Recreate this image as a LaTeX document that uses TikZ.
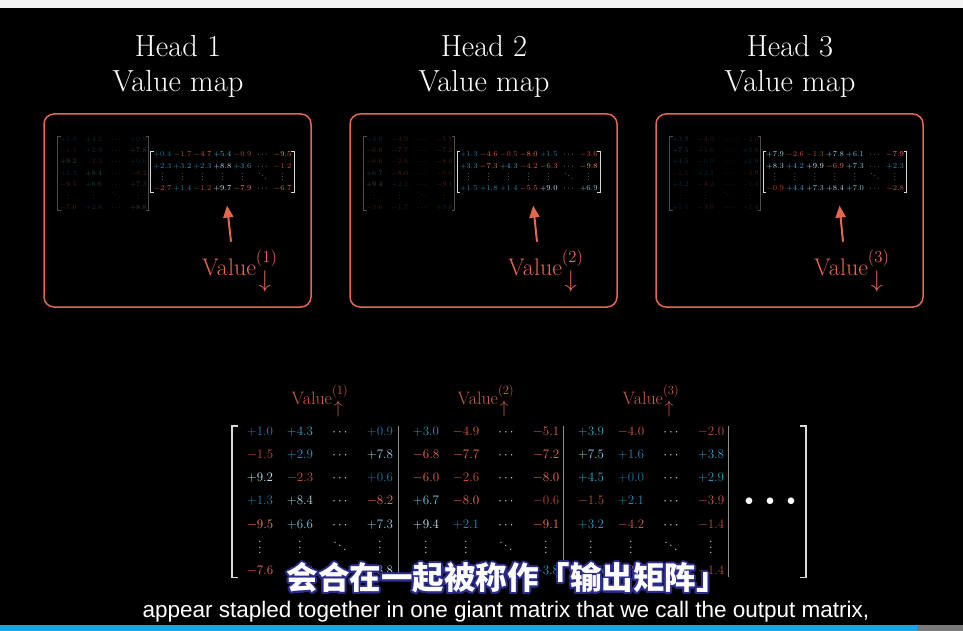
\RequirePackage{fix-cm}
\documentclass[tikz,border=0pt]{standalone}
\usepackage{amsmath}
\usepackage{fontspec}
\usepackage{contour}
\usepackage{tikz}
\usetikzlibrary{positioning, arrows.meta, matrix, calc}

\newfontfamily\cjkfont{Noto Sans CJK SC}
\newfontfamily\capfont{Liberation Sans}

\definecolor{cFrame}   {HTML}{E4684F}
\definecolor{cPosLo}   {HTML}{1D70A0}
\definecolor{cPosMid}  {HTML}{3CB2DC}
\definecolor{cPosHi}   {HTML}{E4F6FC}
\definecolor{cNegLo}   {HTML}{B0452F}
\definecolor{cNegMid}  {HTML}{DE5F48}
\definecolor{cNegHi}   {HTML}{FF8468}
\definecolor{cDots}    {HTML}{E8E8E8}
\definecolor{cBracket} {HTML}{D9D9D9}
\definecolor{cSep}     {HTML}{8C8C8C}
\definecolor{cTopBar}  {HTML}{F4F4F4}
\definecolor{cProg}    {HTML}{18A7E0}
\definecolor{cProgRest}{HTML}{7A7A7A}
\definecolor{cSubEdge} {HTML}{2B2C8C}

\contourlength{2pt}

% matrix entries: colour gets brighter with the magnitude
\newcommand\posv[1]{%
  \ifdim#1pt<5pt \pgfmathtruncatemacro\vlev{#1*20}\textcolor{cPosMid!\vlev!cPosLo}{+#1}%
  \else \pgfmathtruncatemacro\vlev{(#1-5)*20}\textcolor{cPosHi!\vlev!cPosMid}{+#1}\fi}
\newcommand\negv[1]{%
  \ifdim#1pt<5pt \pgfmathtruncatemacro\vlev{#1*20}\textcolor{cNegMid!\vlev!cNegLo}{-#1}%
  \else \pgfmathtruncatemacro\vlev{(#1-5)*20}\textcolor{cNegHi!\vlev!cNegMid}{-#1}\fi}
% dots that scale with the font
\newcommand\vdts{\lower0.2em\vbox{\baselineskip0.42em \lineskiplimit0pt \kern0.5em\hbox{.}\hbox{.}\hbox{.}}}
\newcommand\ddts{\mathinner{\mkern1mu\raise0.6em\vbox{\kern0.6em\hbox{.}}\mkern2mu
  \raise0.33em\hbox{.}\mkern2mu\raise0.05em\hbox{.}\mkern1mu}}

% square brackets round a matrix: [style]{name}{gap}{serif}
\newcommand\brackets[4][]{%
  \draw[#1] ([xshift=-#3+#4]#2.north west) -- ([xshift=-#3]#2.north west)
        -- ([xshift=-#3]#2.south west) -- ([xshift=-#3+#4]#2.south west);
  \draw[#1] ([xshift=#3-#4]#2.north east) -- ([xshift=#3]#2.north east)
        -- ([xshift=#3]#2.south east) -- ([xshift=#3-#4]#2.south east);}

% value columns of each head
\newcommand\vcolsA{%
  \posv{1.0} \& \posv{4.3} \& \cdots \& \posv{0.9} \\
  \negv{1.5} \& \posv{2.9} \& \cdots \& \posv{7.8} \\
  \posv{9.2} \& \negv{2.3} \& \cdots \& \posv{0.6} \\
  \posv{1.3} \& \posv{8.4} \& \cdots \& \negv{8.2} \\
  \negv{9.5} \& \posv{6.6} \& \cdots \& \posv{7.3} \\
  \vdts \& \vdts \& \ddts \& \vdts \\
  \negv{7.6} \& \posv{2.8} \& \cdots \& \posv{8.8} \\}
\newcommand\vcolsB{%
  \posv{3.0} \& \negv{4.9} \& \cdots \& \negv{5.1} \\
  \negv{6.8} \& \negv{7.7} \& \cdots \& \negv{7.2} \\
  \negv{6.0} \& \negv{2.6} \& \cdots \& \negv{8.0} \\
  \posv{6.7} \& \negv{8.0} \& \cdots \& \negv{0.6} \\
  \posv{9.4} \& \posv{2.1} \& \cdots \& \negv{9.1} \\
  \vdts \& \vdts \& \ddts \& \vdts \\
  \negv{3.6} \& \negv{1.7} \& \cdots \& \posv{3.8} \\}
\newcommand\vcolsC{%
  \posv{3.9} \& \negv{4.0} \& \cdots \& \negv{2.0} \\
  \posv{7.5} \& \posv{1.6} \& \cdots \& \posv{3.8} \\
  \posv{4.5} \& \posv{0.0} \& \cdots \& \posv{2.9} \\
  \negv{1.5} \& \posv{2.1} \& \cdots \& \negv{3.9} \\
  \posv{3.2} \& \negv{4.2} \& \cdots \& \negv{1.4} \\
  \vdts \& \vdts \& \ddts \& \vdts \\
  \posv{1.5} \& \negv{3.0} \& \cdots \& \negv{1.4} \\}

% value-map rows of each head
\newcommand\vrowsA{%
  \posv{0.4} \& \negv{1.7} \& \negv{4.7} \& \posv{5.4} \& \negv{0.9} \& \cdots \& \negv{9.5} \\
  \posv{2.3} \& \posv{3.2} \& \posv{2.3} \& \posv{8.8} \& \posv{3.6} \& \cdots \& \negv{1.2} \\
  \vdts \& \vdts \& \vdts \& \vdts \& \vdts \& \ddts \& \vdts \\
  \negv{2.7} \& \posv{1.4} \& \negv{1.2} \& \posv{9.7} \& \negv{7.9} \& \cdots \& \negv{6.7} \\}
\newcommand\vrowsB{%
  \posv{1.3} \& \negv{4.6} \& \negv{0.5} \& \negv{8.0} \& \posv{1.5} \& \cdots \& \negv{3.6} \\
  \posv{3.3} \& \negv{7.3} \& \posv{4.3} \& \negv{4.2} \& \negv{6.3} \& \cdots \& \negv{9.8} \\
  \vdts \& \vdts \& \vdts \& \vdts \& \vdts \& \ddts \& \vdts \\
  \posv{1.5} \& \posv{1.8} \& \posv{1.4} \& \negv{5.5} \& \posv{9.0} \& \cdots \& \posv{6.9} \\}
\newcommand\vrowsC{%
  \posv{7.9} \& \negv{2.6} \& \negv{1.3} \& \posv{7.8} \& \posv{6.1} \& \cdots \& \negv{7.9} \\
  \posv{8.3} \& \posv{4.2} \& \posv{9.9} \& \negv{6.9} \& \posv{7.3} \& \cdots \& \posv{2.3} \\
  \vdts \& \vdts \& \vdts \& \vdts \& \vdts \& \ddts \& \vdts \\
  \negv{0.9} \& \posv{4.4} \& \posv{7.3} \& \posv{8.4} \& \posv{7.0} \& \cdots \& \negv{2.8} \\}

\begin{document}
\begin{tikzpicture}[x=1pt, y=1pt,
    title/.style={text=white, align=center, inner sep=0pt, anchor=north,
                  font=\fontsize{30.5}{35}\selectfont},
    framebox/.style={draw=cFrame, line width=1.5pt, rounded corners=10pt,
                     minimum width=267pt, minimum height=193pt},
    dimmat/.style={matrix of math nodes, ampersand replacement=\&, inner sep=0pt,
                   column sep=9pt, row sep=4.8pt,
                   nodes={inner sep=0pt, text=cDots, text height=5pt, text depth=1.5pt,
                          text opacity=0.3, font=\fontsize{7}{8}\selectfont}},
    rowmat/.style={matrix of math nodes, ampersand replacement=\&, inner sep=0pt,
                   column sep=0pt, row sep=4.9pt,
                   nodes={inner sep=0pt, text=cDots, minimum width=20pt, text height=5pt,
                          text depth=1.5pt, font=\fontsize{7.5}{9}\selectfont}},
    bigmat/.style={matrix of math nodes, ampersand replacement=\&, inner sep=0pt,
                   column sep=0pt, row sep=10.6pt,
                   nodes={inner sep=0pt, text=cDots, minimum width=40pt, text height=9.5pt,
                          text depth=3pt, font=\fontsize{13}{15}\selectfont}},
    brk/.style={draw=cBracket, line width=1pt},
    dimbrk/.style={draw=cBracket!35!black, line width=0.8pt},
    bigbrk/.style={draw=cBracket, line width=1.8pt},
    sepline/.style={draw=cSep, line width=1.2pt},
    vtop/.style={text=cFrame, inner sep=0pt, font=\fontsize{24}{26}\selectfont},
    vbot/.style={text=cFrame!90!black, inner sep=0pt, font=\fontsize{18}{18}\selectfont},
    varrow/.style={draw=cFrame, line width=2pt, -{Triangle[length=12pt, width=10pt]}},
  ]
  \useasboundingbox (0,0) rectangle (963,-631);
  \fill[black] (0,-8) rectangle (963,-625);
  \fill[cTopBar] (0,0) rectangle (963,-8);
  \fill[cProg] (0,-625) rectangle (917,-631);
  \fill[cProgRest] (917,-625) rectangle (963,-631);

  % three head panels
  \foreach \k/\dx in {1/0, 2/306, 3/612}{
    \node[title] (head\k) at (178+\dx,-35) {Head \k\\Value map};
    \node[framebox] (box\k) at (177.5+\dx,-210.5) {};
  }

  % faded value columns and the value-map rows
  \matrix[dimmat] (sm1) at (103.3,-173.5) {\vcolsA};
  \matrix[dimmat] (sm2) at (409.3,-173.5) {\vcolsB};
  \matrix[dimmat] (sm3) at (715.3,-173.5) {\vcolsC};
  \matrix[rowmat] (rm1) at (222.5,-172) {\vrowsA};
  \matrix[rowmat] (rm2) at (528.7,-172) {\vrowsB};
  \matrix[rowmat] (rm3) at (835,-172) {\vrowsC};
  \foreach \m in {sm1,sm2,sm3} {\brackets[dimbrk]{\m}{2pt}{3pt}}
  \foreach \m in {rm1,rm2,rm3} {\brackets[brk]{\m}{1.5pt}{3pt}}

  \foreach \k/\dx in {1/0, 2/306, 3/612}{
    \node[vtop, anchor=base west] (lab\k) at (202+\dx,-275)
      {Value$^{(\k)}_{\kern3pt\raisebox{-2pt}{$\downarrow$}}$};
    \draw[varrow] ([shift={(29pt,8pt)}]lab\k.north west) -- ([shift={(4.5pt,-13pt)}]rm\k.south);
  }

  % output matrix, heads stapled side by side
  \matrix[bigmat] (g1) at (320,-501.7) {\vcolsA};
  \matrix[bigmat] (g2) at (486,-501.7) {\vcolsB};
  \matrix[bigmat] (g3) at (651,-501.7) {\vcolsC};
  \coordinate (vbase) at (0,-404);
  \foreach \k in {1,2,3}
    \node[vbot, anchor=base] (vl\k) at (g\k.north |- vbase)
      {Value$^{(\k)}_{\kern1.5pt\raisebox{0pt}{$\uparrow$}}$};
  \foreach \g/\s in {g1/2pt, g2/3pt, g3/3pt}
    \draw[sepline] ([xshift=-\s]\g.north east) -- ([xshift=-\s]\g.south east);
  \node[text=white, inner sep=0pt, font=\fontsize{17}{20}\selectfont] (more) at (770,-501.7)
    {${\bullet}\hspace{12.5pt}{\bullet}\hspace{12.5pt}{\bullet}$};
  \draw[bigbrk] ([xshift=-2pt]g1.north west) -- ([xshift=-8pt]g1.north west)
    -- ([xshift=-8pt]g1.south west) -- ([xshift=-2pt]g1.south west);
  \draw[bigbrk] ([xshift=69pt]g3.north east) -- ([xshift=75pt]g3.north east)
    -- ([xshift=75pt]g3.south east) -- ([xshift=69pt]g3.south east);

  % subtitles
  \node[text=white, font=\cjkfont\bfseries\fontsize{31.5}{36}\selectfont] (subcn) at (507,-579)
    {\contour{cSubEdge}{会合在一起被称作「输出矩阵」}};
  \node[text=white, anchor=base, font=\capfont\fontsize{22.5}{26}\selectfont] (suben) at (506,-617)
    {appear stapled together in one giant matrix that we call the output matrix,};
\end{tikzpicture}
\end{document}
